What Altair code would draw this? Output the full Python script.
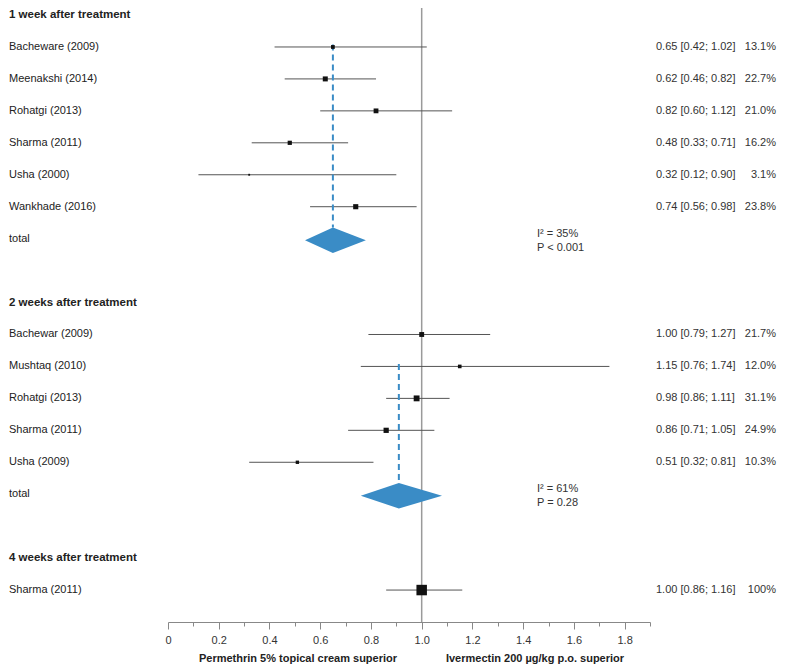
import altair as alt
import pandas as pd

# ---------------- data ----------------
groups = ["1 week after treatment", "2 weeks after treatment", "4 weeks after treatment"]

studies = [
    ["Bacheware (2009)", "Meenakshi (2014)", "Rohatgi (2013)", "Sharma (2011)", "Usha (2000)", "Wankhade (2016)"],
    ["Bachewar (2009)", "Mushtaq (2010)", "Rohatgi (2013)", "Sharma (2011)", "Usha (2009)"],
    ["Sharma (2011)"],
]
est = [
    [0.65, 0.62, 0.82, 0.48, 0.32, 0.74],
    [1.00, 1.15, 0.98, 0.86, 0.51],
    [1.00],
]
lo = [
    [0.42, 0.46, 0.60, 0.33, 0.12, 0.56],
    [0.79, 0.76, 0.86, 0.71, 0.32],
    [0.86],
]
hi = [
    [1.02, 0.82, 1.12, 0.71, 0.90, 0.98],
    [1.27, 1.74, 1.11, 1.05, 0.81],
    [1.16],
]
weight = [
    [13.1, 22.7, 21.0, 16.2, 3.1, 23.8],
    [21.7, 12.0, 31.1, 24.9, 10.3],
    [100.0],
]
tot_est = [0.65, 0.91]
tot_lo = [0.54, 0.76]
tot_hi = [0.78, 1.08]
i2_text = ["I\u00b2 = 35%", "I\u00b2 = 61%"]
p_text = ["P < 0.001", "P = 0.28"]
dash_first = [0, 1]  # index of the study where the dashed pooled line starts

tick_values = [i / 10 for i in range(20)]
left_footer = "Permethrin 5% topical cream superior"
right_footer = "Ivermectin 200 \u00b5g/kg p.o. superior"

# ---------------- build tables ----------------
DIAMOND_H = 0.4
header_rows, study_rows, total_rows, dash_rows, stat_rows = [], [], [], [], []
diamond_tables = []
r = 0
for g, name in enumerate(groups):
    header_rows.append({"label": name, "row": r})
    r += 1
    first_row = None
    for i, s in enumerate(studies[g]):
        w = weight[g][i]
        study_rows.append({
            "label": s, "row": r, "est": est[g][i], "lo": lo[g][i], "hi": hi[g][i], "w": w,
            "ci": f"{est[g][i]:.2f} [{lo[g][i]:.2f}; {hi[g][i]:.2f}]",
            "pct": "100%" if w == 100 else f"{w:.1f}%",
        })
        if g < len(dash_first) and i == dash_first[g]:
            first_row = r
        r += 1
    if g < len(tot_est):
        total_rows.append({"label": "total", "row": r})
        pts = []
        for xv, dy in [(tot_lo[g], 0.0), (tot_est[g], DIAMOND_H), (tot_hi[g], 0.0)]:
            pts.append({"dx": xv, "ya": r + 0.05 - dy, "yb": r + 0.05 + dy})
        diamond_tables.append(pd.DataFrame(pts))
        dash_rows.append({"x": tot_est[g], "y1": first_row - 0.08, "y2": r + 0.05 - DIAMOND_H})
        stat_rows.append({"row": r, "i2": i2_text[g], "p": p_text[g]})
        r += 1
    r += 1

axis_row = max(d["row"] for d in study_rows) + 1
TOP = -0.22

hdr = pd.DataFrame(header_rows)
std = pd.DataFrame(study_rows)
tot = pd.DataFrame(total_rows)
dsh = pd.DataFrame(dash_rows)
sts = pd.DataFrame(stat_rows)
ref = pd.DataFrame({"x": [1.0], "y1": [TOP], "y2": [axis_row]})
foot = pd.DataFrame({"t": [left_footer, right_footer], "px": [130, 367]})

# ---------------- scales ----------------
FONT = "Liberation Sans"
xs = alt.Scale(domain=[0, 1.9], nice=False, zero=False)
ys = alt.Scale(domain=[TOP, axis_row], reverse=True, nice=False, zero=False)
xaxis = alt.Axis(
    values=tick_values, title=None, grid=False,
    labelExpr="round(datum.value*10) % 2 == 0 ? (datum.value == 0 ? '0' : format(datum.value, '.1f')) : ''",
    tickSize={"condition": {"test": "round(datum.value*10) % 2 == 0", "value": 7}, "value": 4},
    domainColor="#888888", tickColor="#888888", labelColor="#333333",
    labelFont=FONT, labelFontSize=11, labelPadding=5, labelFlush=False,
)


def X(f):
    return alt.X(f, type="quantitative", scale=xs, axis=xaxis)


def Y(f):
    return alt.Y(f, type="quantitative", scale=ys, axis=None)


refline = alt.Chart(ref).mark_rule(color="#9a9a9a", strokeWidth=1.5).encode(
    x=X("x"), y=Y("y1"), y2=alt.Y2("y2"))

ci = alt.Chart(std).mark_rule(color="#555555", strokeWidth=1).encode(
    x=X("lo"), x2=alt.X2("hi"), y=Y("row"))

sq = alt.Chart(std).mark_square(color="#111111", opacity=1, filled=True).encode(
    x=X("est"), y=Y("row"),
    size=alt.Size("w:Q", scale=alt.Scale(domain=[0, 100], range=[0, 110]), legend=None))

dash = alt.Chart(dsh).mark_rule(color="#3a8cc6", strokeWidth=2, strokeDash=[6, 4]).encode(
    x=X("x"), y=Y("y1"), y2=alt.Y2("y2"))

diamonds = [
    alt.Chart(d).mark_area(color="#3a8cc6", opacity=1).encode(
        x=X("dx"), y=Y("ya"), y2=alt.Y2("yb"))
    for d in diamond_tables
]

lbl = alt.Chart(std).mark_text(align="left", baseline="middle", font=FONT, fontSize=11, color="#222222").encode(
    x=alt.value(-159), y=Y("row"), text="label:N")
tlbl = alt.Chart(tot).mark_text(align="left", baseline="middle", font=FONT, fontSize=11, color="#222222").encode(
    x=alt.value(-159), y=Y("row"), text="label:N")
hlbl = alt.Chart(hdr).mark_text(align="left", baseline="middle", font=FONT, fontSize=11.5, fontWeight="bold",
                                 color="#222222").encode(x=alt.value(-159), y=Y("row"), text="label:N")

citxt = alt.Chart(std).mark_text(align="left", baseline="middle", font=FONT, fontSize=11, color="#333333").encode(
    x=alt.value(488), y=Y("row"), text="ci:N")
pcttxt = alt.Chart(std).mark_text(align="right", baseline="middle", font=FONT, fontSize=11, color="#333333").encode(
    x=alt.value(608), y=Y("row"), text="pct:N")

i2t = alt.Chart(sts).mark_text(align="left", baseline="middle", font=FONT, fontSize=11, color="#333333", dy=-5).encode(
    x=alt.value(369), y=Y("row"), text="i2:N")
pt = alt.Chart(sts).mark_text(align="left", baseline="middle", font=FONT, fontSize=11, color="#333333", dy=9).encode(
    x=alt.value(369), y=Y("row"), text="p:N")

ft = alt.Chart(foot).mark_text(align="center", baseline="middle", font=FONT, fontSize=11, fontWeight="bold",
                               color="#222222").encode(x=alt.X("px:Q", scale=None),
                                                       y=alt.value(651), text="t:N")

chart = alt.layer(
    refline, ci, dash, *diamonds, sq, lbl, tlbl, hlbl, citxt, pcttxt, i2t, pt, ft
).properties(
    width=482, height=614,
    autosize=alt.AutoSizeParams(type="none"),
    padding={"left": 160, "right": 127, "top": 0, "bottom": 44},
    background="white",
).configure_view(stroke=None)

chart.save("out.html", embed_options={"renderer": "svg", "actions": False})
